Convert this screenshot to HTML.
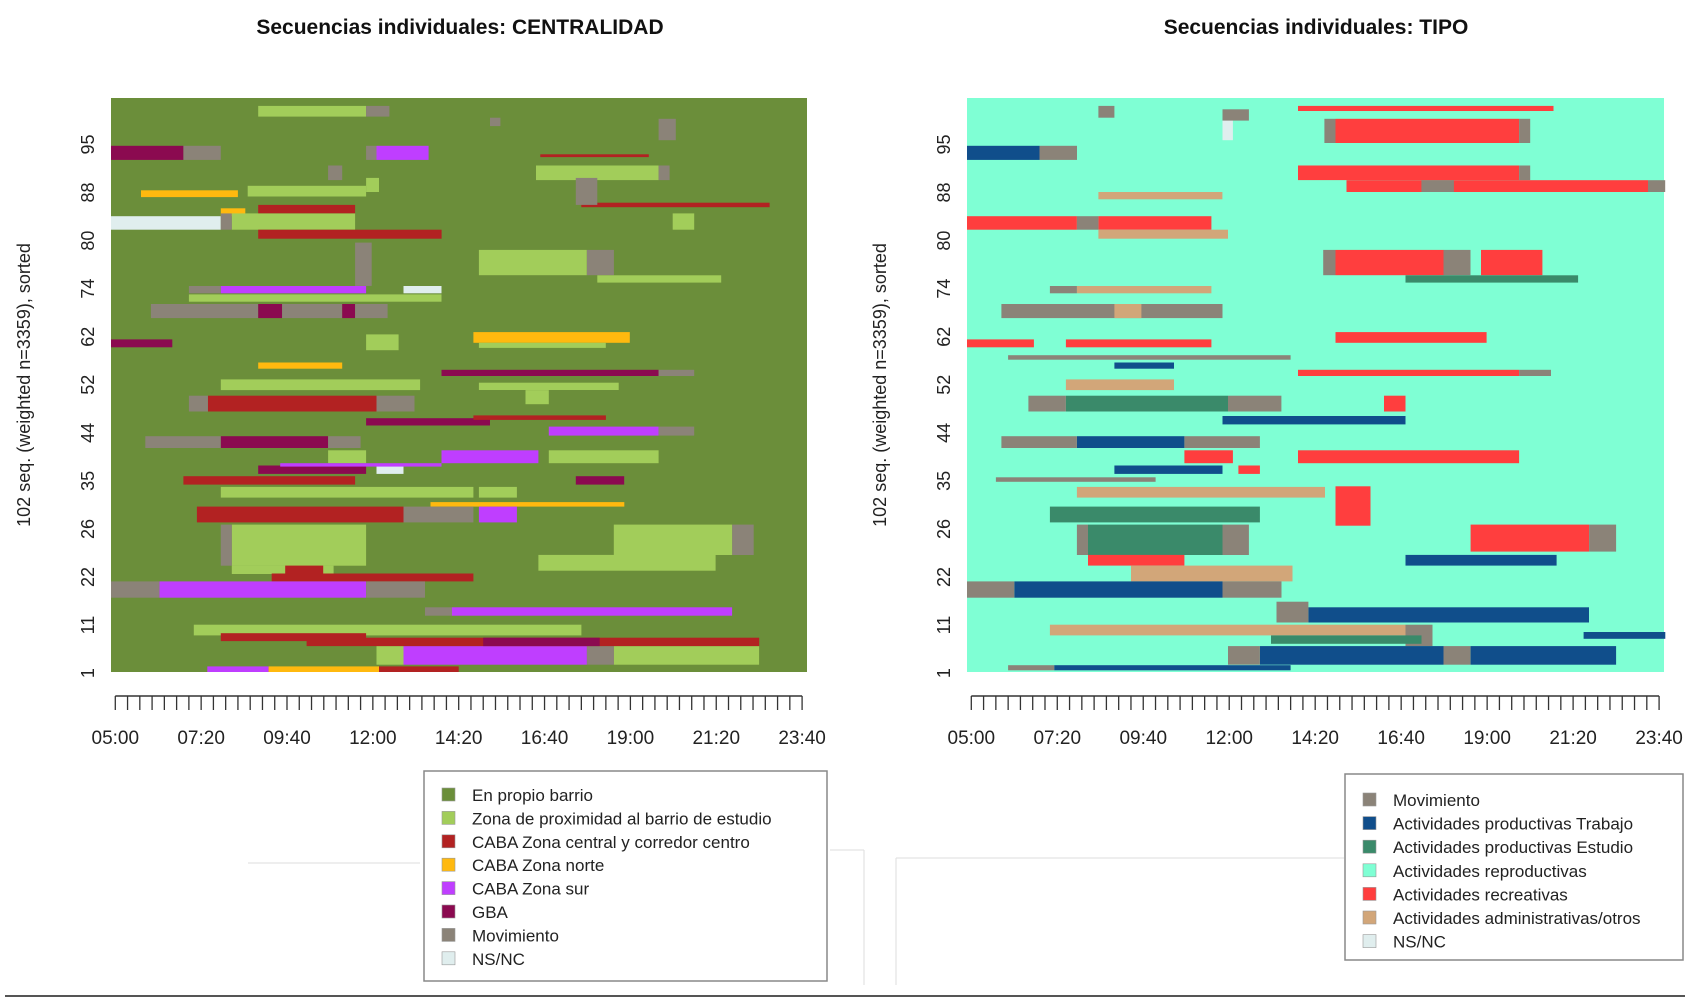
<!DOCTYPE html>
<html><head><meta charset="utf-8">
<style>
html,body{margin:0;padding:0;background:#fff;}
svg{display:block;font-family:"Liberation Sans",Arial,sans-serif;}
</style></head>
<body>
<svg id="chart" width="1689" height="1005" viewBox="0 0 1689 1005" xmlns="http://www.w3.org/2000/svg">
<rect x="0" y="0" width="1689" height="1005" fill="#fff"/>
<text x="460" y="34" font-size="21" font-weight="bold" text-anchor="middle" fill="#111">Secuencias individuales:  CENTRALIDAD</text>
<text x="1316" y="34" font-size="21" font-weight="bold" text-anchor="middle" fill="#111">Secuencias individuales:  TIPO</text>
<g id="left"></g>
<g id="right"></g>
<line x1="248" y1="863" x2="420" y2="863" stroke="#ddd" stroke-width="1"/>
<line x1="830" y1="850" x2="864" y2="850" stroke="#ddd" stroke-width="1"/>
<line x1="864" y1="850" x2="864" y2="985" stroke="#ddd" stroke-width="1"/>
<line x1="896" y1="858" x2="1344" y2="858" stroke="#ddd" stroke-width="1"/>
<line x1="896" y1="858" x2="896" y2="985" stroke="#ddd" stroke-width="1"/>
<line x1="5" y1="996" x2="1685" y2="996" stroke="#555" stroke-width="2"/>
</svg>
<script>
// ---------- data ----------
const rowLabels = [1, 11, 22, 26, 35, 44, 52, 62, 74, 80, 88, 95];
const timeTickLabels = ["05:00","07:20","09:40","12:00","14:20","16:40","19:00","21:20","23:40"];
const nRows = 102;

const leftStates = ["En propio barrio","Zona de proximidad al barrio de estudio","CABA Zona central y corredor centro","CABA Zona norte","CABA Zona sur","GBA","Movimiento","NS/NC"];
const leftColors = ["#6B8E3A","#A2CD5A","#B22222","#FFB90F","#BF3EFF","#8B0A50","#8B8378","#E0EEEE"];
// segments: [rowLow, rowHigh, startMin(after 05:00), endMin, stateIndex]
const leftSegs = [
[98.7,100.6,233,409,1],[98.7,100.6,409,447,6],[94.5,98.3,886,914,6],[97,98.5,611,628,6],
[91,93.5,-7,111,5],[91,93.5,111,172,6],[91,93.5,426,511,4],[91,93.5,409,426,6],
[87.4,90,686,886,1],[87.4,90,886,904,6],[87.4,90,347,370,6],[85.3,87.8,409,430,1],
[84.5,86.4,216,409,1],[82.6,83.4,760,1067,2],[83,87.8,751,786,6],[91.5,92,693,870,2],
[78.6,81,-7,172,7],[81,82.4,172,212,3],[78.6,81.5,190,391,1],[78.6,81.5,172,190,6],
[81.5,83,233,391,2],[77,78.6,233,532,2],[78.6,81.5,909,944,1],[84.4,85.6,42,200,3],
[70.5,75,593,769,1],[70.5,75,769,813,6],[69.2,70.5,786,988,1],[68.6,76.3,391,418,6],
[67.3,68.6,172,409,4],[67.3,68.6,120,172,6],[67.3,68.6,470,532,7],[65.8,67.1,120,532,1],
[62.9,65.4,58,233,6],[62.9,65.4,233,272,5],[62.9,65.4,272,370,6],[62.9,65.4,370,391,5],[62.9,65.4,391,444,6],
[57.7,59.1,-7,93,5],[58.5,60.4,584,839,3],[57.2,60,409,462,1],[57.6,58.5,593,800,1],
[53.9,55,233,370,3],[52.6,53.7,532,886,5],[52.6,53.7,886,944,6],[50.1,52,172,497,1],
[46.3,49.1,151,426,2],[46.3,49.1,120,151,6],[46.3,49.1,426,488,6],
[50.1,51.4,593,821,1],[47.6,50.1,669,707,1],[43.8,45.1,409,611,5],[44.8,45.6,584,800,2],
[42,43.6,707,886,4],[42,43.6,886,944,6],[39.8,41.9,172,347,5],[39.8,41.9,49,172,6],[39.8,41.9,347,400,6],
[37.1,39.4,532,690,4],[37.1,39.4,707,886,1],[37.1,39.4,347,409,1],[35.2,36.7,233,409,5],[35.2,36.7,426,470,7],
[36.5,37.1,269,532,4],[33.3,34.8,111,391,2],[33.3,34.8,751,830,5],[31,32.9,172,584,1],[31,32.9,593,655,1],
[29.4,30.2,514,830,3],[26.6,29.4,133,470,2],[26.6,29.4,593,655,4],[26.6,29.4,470,584,6],
[18.9,26.2,190,409,1],[17.4,18.9,190,356,1],[18.9,26.2,172,190,6],[20.8,26.2,813,1006,1],[20.8,26.2,1006,1041,6],
[18,20.8,690,979,1],[16.1,17.5,255,584,2],[17.5,18.9,277,339,2],[13.2,16.1,72,409,4],[13.2,16.1,-7,72,6],[13.2,16.1,409,505,6],
[10,11.5,549,1006,4],[10,11.5,505,549,6],[6.5,8.4,128,760,1],[5.5,6.9,172,409,2],
[1.3,4.6,470,769,4],[1.3,4.6,426,470,1],[1.3,4.6,813,1050,1],[1.3,4.6,769,813,6],
[4.6,6.1,312,1050,2],[4.6,6.1,600,790,5],[0,1,150,250,4],[0,1,250,430,3],[0,1,430,560,2]
];

const rightStates = ["Movimiento","Actividades productivas Trabajo","Actividades productivas Estudio","Actividades reproductivas","Actividades recreativas","Actividades administrativas/otros","NS/NC"];
const rightColors = ["#8B8378","#104E8B","#3A8A6A","#7FFFD4","#FF3E3E","#D2A679","#E0EEEE"];
const rightSegs = [
[99.7,100.6,532,948,4],[94,98.3,593,892,4],[94,98.3,575,593,0],[94,98.3,892,910,0],[98.5,100.6,207,233,0],
[94.5,98.7,409,426,6],[98,100,409,452,0],[91,93.5,-7,111,1],[91,93.5,111,172,0],
[87.4,90,532,892,4],[87.4,90,892,910,0],[85.3,87.4,611,1102,4],[85.3,87.4,733,786,0],[85.3,87.4,1102,1130,0],
[84,85.3,207,409,5],[78.6,81,-7,172,4],[78.6,81,207,391,4],[78.6,81,172,207,0],[77,78.6,207,418,5],
[70.5,75,593,769,4],[70.5,75,769,813,0],[70.5,75,830,930,4],[70.5,75,573,593,0],[69.2,70.5,707,988,2],
[67.3,68.6,172,391,5],[67.3,68.6,128,172,0],[62.9,65.4,49,409,0],[62.9,65.4,233,277,5],
[57.7,59.1,-7,102,4],[57.7,59.1,154,391,4],[58.5,60.4,593,839,4],[53.9,55,233,330,1],
[52.6,53.7,532,892,4],[52.6,53.7,892,944,0],[50.1,52,154,330,5],[46.3,49.1,154,418,2],
[46.3,49.1,93,154,0],[46.3,49.1,418,505,0],[46.3,49.1,672,707,4],[44,45.5,409,707,1],
[39.8,41.9,172,347,1],[39.8,41.9,49,172,0],[39.8,41.9,347,470,0],[37.1,39.4,347,426,4],[37.1,39.4,532,892,4],
[35.2,36.7,233,409,1],[35.2,36.7,435,470,4],[31,32.9,172,576,5],[26,33,593,650,4],
[26.6,29.4,128,470,2],[20.8,26.2,190,409,2],[20.8,26.2,172,190,0],[20.8,26.2,409,452,0],
[21.4,26.2,813,1006,4],[21.4,26.2,1006,1050,0],[18.9,20.8,190,347,4],[18.9,20.8,707,953,1],
[16.1,18.9,260,523,5],[13.2,16.1,70,409,1],[13.2,16.1,-7,70,0],[13.2,16.1,409,505,0],
[8.8,11.5,549,1006,1],[8.8,12.5,497,549,0],[6.5,8.4,128,707,5],[4.6,8.4,707,751,0],
[5.9,7.1,997,1130,1],[1.3,4.6,470,769,1],[1.3,4.6,769,813,0],[1.3,4.6,813,1050,1],[1.3,4.6,418,470,0],
[5,6.5,488,733,2],[0.3,1.2,135,520,1],[0.3,1.2,60,135,0],[33.8,34.6,40,300,0],[55.5,56.3,60,520,0]
];

// ---------- drawing ----------
const NS = "http://www.w3.org/2000/svg";
const T_MIN = -7, T_MAX = 1128;
const PLOT_TOP = 98, PLOT_BOTTOM = 672;
const LABEL_STEP_ROWS = 8.54;
function xScale(t, left, width){ return left + (t - T_MIN) / (T_MAX - T_MIN) * width; }
function yScale(r){ return PLOT_BOTTOM - r / nRows * (PLOT_BOTTOM - PLOT_TOP); }
function mk(tag, parent){ const e = document.createElementNS(NS, tag); parent.appendChild(e); return e; }

function drawPanel(g, left, width, segs, colors, bgIndex, names){
  const bg = mk("rect", g);
  
  
  bg.setAttribute("x", left); bg.setAttribute("y", PLOT_TOP);
  bg.setAttribute("width", width); bg.setAttribute("height", PLOT_BOTTOM - PLOT_TOP);
  bg.setAttribute("fill", colors[bgIndex]);
  segs.forEach(s => {
    const r = mk("rect", g);
    
    
    const x1 = xScale(s[2], left, width), x2 = xScale(s[3], left, width);
    const y1 = yScale(s[1]), y2 = yScale(s[0]);
    r.setAttribute("x", x1.toFixed(1)); r.setAttribute("y", y1.toFixed(1));
    r.setAttribute("width", Math.max(0, x2 - x1).toFixed(1)); r.setAttribute("height", Math.max(0, y2 - y1).toFixed(1));
    r.setAttribute("fill", colors[s[4]]);
  });
  // y labels (evenly spaced ticks, labelled with sequence ids)
  rowLabels.forEach((v, i) => {
    const t = mk("text", g);
    
    
    const y = yScale(i * LABEL_STEP_ROWS - 0.2);
    const x = left - 23;
    t.setAttribute("transform", `translate(${x},${y}) rotate(-90)`);
    t.setAttribute("text-anchor", "middle"); t.setAttribute("dominant-baseline", "central");
    t.setAttribute("font-size", "18"); t.setAttribute("fill", "#222");
    t.textContent = v;
  });
  const yt = mk("text", g);
  
  
  yt.setAttribute("transform", `translate(${left - 87},385) rotate(-90)`);
  yt.setAttribute("text-anchor", "middle"); yt.setAttribute("dominant-baseline", "central");
  yt.setAttribute("font-size", "18"); yt.setAttribute("fill", "#222");
  yt.textContent = "102 seq. (weighted n=3359), sorted";
  // x axis
  const ax = mk("line", g);
  
  
  ax.setAttribute("x1", xScale(0, left, width)); ax.setAttribute("x2", xScale(1120, left, width));
  ax.setAttribute("y1", 696); ax.setAttribute("y2", 696);
  ax.setAttribute("stroke", "#333"); ax.setAttribute("stroke-width", "1.5");
  for (let m = 0; m <= 1120; m += 20){
    const tk = mk("line", g);
    
    
    const x = xScale(m, left, width);
    tk.setAttribute("x1", x); tk.setAttribute("x2", x);
    tk.setAttribute("y1", 696); tk.setAttribute("y2", 710);
    tk.setAttribute("stroke", "#333"); tk.setAttribute("stroke-width", "1.3");
  }
  timeTickLabels.forEach((lab, i) => {
    const t = mk("text", g);
    
    
    t.setAttribute("x", xScale(i * 140, left, width)); t.setAttribute("y", 744);
    t.setAttribute("text-anchor", "middle"); t.setAttribute("font-size", "19"); t.setAttribute("fill", "#222");
    t.textContent = lab;
  });
}

function drawLegend(g, bx, by, bw, bh, names, colors, order, ey0, dy){
  const box = mk("rect", g);
  
  
  box.setAttribute("x", bx); box.setAttribute("y", by); box.setAttribute("width", bw); box.setAttribute("height", bh);
  box.setAttribute("fill", "#fff"); box.setAttribute("stroke", "#888"); box.setAttribute("stroke-width", "1.5");
  order.forEach((k, i) => {
    const y = ey0 + i * dy;
    const sq = mk("rect", g);
    
    
    sq.setAttribute("x", bx + 18); sq.setAttribute("y", y - 7); sq.setAttribute("width", 13); sq.setAttribute("height", 13);
    sq.setAttribute("fill", colors[k]); sq.setAttribute("stroke", "#999"); sq.setAttribute("stroke-width", "0.6");
    const t = mk("text", g);
    
    
    t.setAttribute("x", bx + 48); t.setAttribute("y", y + 6);
    t.setAttribute("font-size", "17"); t.setAttribute("fill", "#222");
    t.textContent = names[k];
  });
}

const gl = document.getElementById("left"), gr = document.getElementById("right");
drawPanel(gl, 111, 696, leftSegs, leftColors, 0, leftStates);
drawPanel(gr, 967, 697, rightSegs, rightColors, 3, rightStates);
drawLegend(gl, 424, 771, 403, 210, leftStates, leftColors, [0,1,2,3,4,5,6,7], 795, 23.4);
drawLegend(gr, 1345, 774, 338, 186, rightStates, rightColors, [0,1,2,3,4,5,6], 800, 23.6);
</script>
</body></html>
